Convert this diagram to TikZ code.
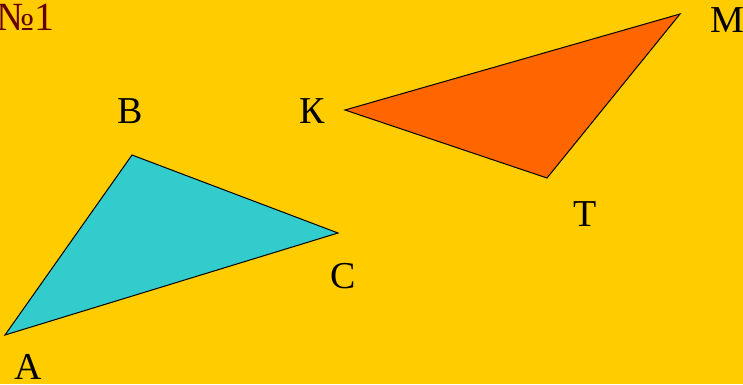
\documentclass[tikz,border=0pt]{standalone}
\usepackage{fontspec}
\setmainfont{Liberation Serif}
\definecolor{bg}{HTML}{FFCC00}
\definecolor{tri1}{HTML}{33CCCC}
\definecolor{tri2}{HTML}{FF6600}
\definecolor{numred}{HTML}{660000}
\begin{document}
\begin{tikzpicture}[x=1pt,y=-1pt,
  lbl/.style={font=\fontsize{38}{38}\selectfont, inner sep=0pt, anchor=center},
  tri/.style={draw=black, line width=1pt, line join=miter}]
\fill[bg] (0,0) rectangle (743,384);
\useasboundingbox (0,0) rectangle (743,384);
\coordinate (A) at (5,335);
\coordinate (B) at (132,155);
\coordinate (C) at (338,233);
\coordinate (K) at (345,110);
\coordinate (M) at (680,14);
\coordinate (T) at (547,178);
\filldraw[tri, fill=tri1] (A) -- (B) -- (C) -- cycle;
\filldraw[tri, fill=tri2] (K) -- (M) -- (T) -- cycle;
\node[lbl, anchor=west, text=numred, font=\fontsize{40}{40}\selectfont] (num) at (-4,17) {№1};
\node[lbl] (lB) at (130,111) {В};
\node[lbl] (lK) at (312,111) {К};
\node[lbl] (lM) at (727,20) {М};
\node[lbl] (lT) at (585,214) {Т};
\node[lbl] (lC) at (343,276) {С};
\node[lbl] (lA) at (28,367) {А};
\end{tikzpicture}
\end{document}
